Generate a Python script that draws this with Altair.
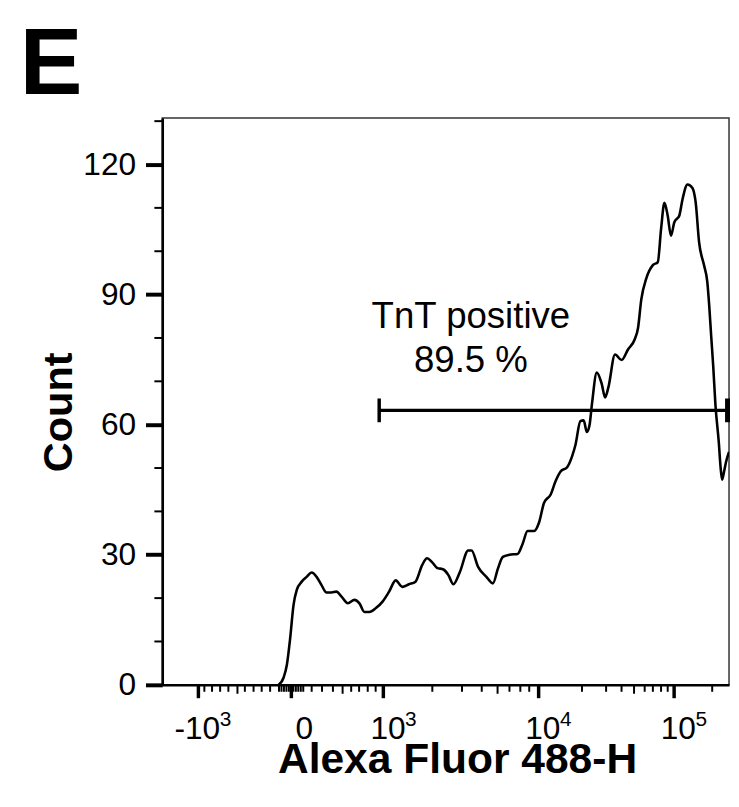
import json
import altair as alt
import pandas as pd

# ---------------- data (x in display channels 0-1024 of the biexponential axis) ----------------
curve_ch = [210.3, 219.3, 225.2, 231.1, 237.1, 243.0, 252.0, 260.9, 269.9, 278.8,
            287.7, 296.7, 305.6, 314.5, 323.5, 335.4, 347.2, 356.2, 365.1, 374.0,
            386.0, 398.0, 409.8, 421.8, 433.7, 445.5, 457.5, 469.5, 478.4, 487.3,
            496.3, 508.1, 517.0, 525.9, 537.9, 552.7, 558.8, 570.6, 585.6, 597.4,
            606.4, 615.3, 627.3, 642.1, 651.0, 660.0, 671.9, 680.9, 689.8, 701.8,
            710.7, 719.7, 731.5, 740.4, 746.5, 755.4, 761.3, 767.2, 772.0, 776.1,
            785.1, 794.0, 800.1, 806.0, 818.0, 829.8, 841.7, 853.7, 859.6, 865.5,
            874.4, 886.4, 895.3, 901.2, 907.3, 913.2, 919.1, 925.2, 934.1, 940.0,
            948.9, 957.9, 963.8, 969.9, 978.8, 984.7, 988.3, 991.8, 995.4, 999.5,
            1005.6, 1008.8, 1011.5, 1015.1, 1018.6, 1024.0]
curve_count = [0.0, 1.7, 4.7, 10.8, 18.4, 21.9, 23.8, 24.9, 25.9, 24.9,
               23.0, 21.3, 21.3, 21.5, 20.4, 18.8, 19.6, 18.8, 16.8, 16.8,
               17.7, 19.2, 21.5, 24.1, 22.6, 23.2, 23.8, 27.6, 29.2, 28.3,
               27.0, 26.6, 25.3, 23.2, 26.1, 31.0, 31.0, 27.2, 24.9, 23.4,
               26.8, 29.5, 30.0, 30.2, 32.5, 35.5, 35.5, 37.5, 42.0, 43.9,
               47.0, 49.2, 50.2, 52.7, 55.3, 60.8, 61.0, 58.3, 59.9, 64.5,
               72.0, 69.4, 66.3, 68.6, 76.2, 74.9, 77.4, 79.7, 82.3, 88.9,
               93.7, 96.8, 97.5, 105.1, 111.2, 108.2, 103.6, 106.7, 108.2, 112.0,
               115.4, 114.6, 111.2, 102.1, 96.8, 93.0, 87.3, 80.4, 73.6, 64.5,
               55.8, 50.1, 47.3, 49.2, 51.4, 53.7]

# axis ticks (channel positions) and labels: base and exponent
x_major = [64.3, 232.3, 399.4, 679.1, 923.9]
x_major_base = ["-10", "0", "10", "10", "10"]
x_major_exp = ["3", "", "3", "4", "5"]
x_minor = [76.0, 89.9, 104.5, 119.4, 149.2, 164.9, 179.6, 194.8,
           210.9, 215.3, 219.8, 224.3, 228.7, 236.8, 241.3, 245.7, 250.2, 254.7,
           269.9, 288.6, 308.3, 341.3, 355.6, 371.2, 385.5,
           487.9, 541.5, 577.2, 627.3, 646.9, 663.0,
           758.3, 801.9, 829.8, 871.6, 886.4, 901.2, 913.2, 993.6]
x_mid = [135.8, 325.8, 605.8, 852.4]
y_major = [0, 30, 60, 90, 120]
y_minor = [10, 20, 40, 50, 70, 80, 100, 110, 130]

# gate
gate_start = 391.9
gate_end = 1024.0
gate_end_cap = 1021.3
gate_count = 63.3
gate_label = "TnT positive\n89.5 %"
gate_label_x = 557.6
gate_label_y = 82.3

panel_letter = "E"

# ---------------- chart ----------------
W, H = 573, 573
FONT = "Liberation Sans"
xs = alt.Scale(domain=[0, 1024], nice=False, zero=False)
ys = alt.Scale(domain=[0, 130.7], nice=False, zero=False)

label_expr = "{}[indexof({}, datum.value)]".format(
    json.dumps(x_major_base, ensure_ascii=False), json.dumps(x_major))

x_axis = alt.Axis(
    values=x_major, labelExpr=label_expr, tickSize=13, tickWidth=3.5,
    labelPadding=16, labelAlign="right", labelOffset=22, title="Alexa Fluor 488-H",
    titleX=298, titleY=89, titleBaseline="alphabetic", titleAlign="center",
    titleFontSize=43)
y_axis = alt.Axis(
    values=y_major, tickSize=17, tickWidth=4, labelPadding=10,
    title="Count", titleX=-92, titleY=297, titleBaseline="alphabetic",
    titleAlign="center")


def X(f):
    return alt.X(f, scale=xs, axis=x_axis)


def Y(f):
    return alt.Y(f, scale=ys, axis=y_axis)


curve = pd.DataFrame({"ch": curve_ch, "count": curve_count})

line = alt.Chart(curve).mark_line(
    color="black", strokeWidth=2.6, interpolate="monotone", clip=True
).encode(x=X("ch:Q"), y=Y("count:Q"))

gate_df = pd.DataFrame({"ch": [gate_start], "end": [gate_end], "count": [gate_count]})
gate = alt.Chart(gate_df).mark_rule(color="black", strokeWidth=3.5).encode(
    x=X("ch:Q"), x2="end:Q", y=Y("count:Q"))
cap_l = alt.Chart(pd.DataFrame({"ch": [gate_start], "count": [gate_count]})).mark_tick(
    color="black", orient="vertical", size=24, thickness=3.5, opacity=1
).encode(x=X("ch:Q"), y=Y("count:Q"))
cap_r = alt.Chart(pd.DataFrame({"ch": [gate_end_cap], "count": [gate_count]})).mark_tick(
    color="black", orient="vertical", size=24, thickness=5, opacity=1
).encode(x=X("ch:Q"), y=Y("count:Q"))

label = alt.Chart(pd.DataFrame({"ch": [gate_label_x], "count": [gate_label_y], "t": [gate_label]})).mark_text(
    font=FONT, fontSize=37, color="black", align="center", baseline="alphabetic",
    lineBreak="\n", lineHeight=45
).encode(x=X("ch:Q"), y=Y("count:Q"), text="t:N")

xminor = alt.Chart(pd.DataFrame({"ch": x_minor})).mark_rule(color="black", strokeWidth=2).encode(
    x=X("ch:Q"), y=alt.value(H), y2=alt.value(H + 7))
xmid = alt.Chart(pd.DataFrame({"ch": x_mid})).mark_rule(color="black", strokeWidth=2).encode(
    x=X("ch:Q"), y=alt.value(H), y2=alt.value(H + 9))
yminor = alt.Chart(pd.DataFrame({"count": y_minor})).mark_rule(color="black", strokeWidth=2).encode(
    y=Y("count:Q"), x=alt.value(-8), x2=alt.value(0))

# exponents of the x tick labels (superscripts)
sup = alt.Chart(pd.DataFrame({"ch": x_major, "e": x_major_exp})).mark_text(
    font=FONT, fontSize=21, color="black", align="left", baseline="alphabetic", dx=22
).encode(x=X("ch:Q"), y=alt.value(H + 42), text="e:N")

letter = alt.Chart(pd.DataFrame({"t": [panel_letter]})).mark_text(
    font=FONT, fontSize=95, fontWeight="bold", color="black", align="left",
    baseline="alphabetic"
).encode(text="t:N", x=alt.value(-144), y=alt.value(-24))

chart = alt.layer(line, gate, cap_l, cap_r, label, xminor, xmid, yminor, sup, letter).properties(
    width=W, height=H,
    padding={"left": 156, "top": 107, "right": 2, "bottom": 103},
    autosize=alt.AutoSizeParams(type="none"),
).configure_view(
    stroke="#333", strokeWidth=1.5
).configure_axis(
    domainColor="black", domainWidth=2.5, tickColor="black", labelColor="black",
    labelFont=FONT, labelFontSize=32, titleFont=FONT, titleFontSize=42,
    titleFontWeight="bold", titleColor="black", grid=False
)

chart.save("out.html", embed_options={"renderer": "svg", "actions": False})
